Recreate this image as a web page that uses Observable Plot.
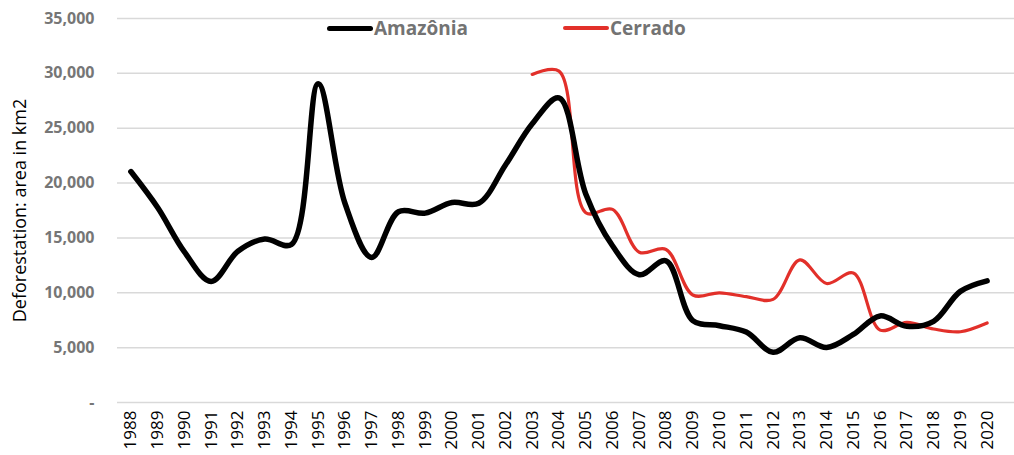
<!DOCTYPE html>
<html>
<head>
<meta charset="utf-8">
<script src="https://cdn.jsdelivr.net/npm/d3@7"></script>
<script src="https://cdn.jsdelivr.net/npm/@observablehq/plot@0.6"></script>
<style>
  html, body { margin: 0; padding: 0; background: #fff; }
  #wrap { position: relative; width: 1014px; height: 455px; font-family: "Open Sans", sans-serif; }
  #legend { position: absolute; top: 16px; left: 0; width: 1014px; height: 24px; pointer-events: none; }
  .li { position: absolute; top: 0; display: flex; align-items: center; height: 24px; }
  .sw { display: inline-block; width: 46px; border-radius: 3px; }
  .lt { font-weight: 700; font-size: 19px; color: #737373; margin-left: 1px; line-height: 24px; }
</style>
</head>
<body>
<div id="wrap">
  <div id="chart"></div>
  <div id="legend"></div>
</div>
<script>
const years = d3.range(1988, 2021);
const amazonia = [21050, 17770, 13730, 11030, 13786, 14900, 14400, 29059, 18161, 13227,
  17383, 17259, 18226, 18165, 21651, 25396, 27772, 19014, 14286, 11651,
  12911, 7464, 7000, 6418, 4571, 5891, 5012, 6207, 7893, 6947, 7400, 10129, 11088];
const cerradoYears = d3.range(2003, 2021);
const cerrado = [29900, 30200, 17300, 17600, 13700, 13950, 9800, 10000, 9650, 9400,
  13000, 10850, 11800, 6600, 7300, 6700, 6450, 7250];
const yTicks = [0, 5000, 10000, 15000, 20000, 25000, 30000, 35000];
const seriesNames = ["Amazônia", "Cerrado"];
const seriesColors = ["#000000", "#e2302a"];
const seriesWidths = [5.5, 3.2];

const amazData = years.map((y, i) => ({year: y, value: amazonia[i]}));
const cerData = cerradoYears.map((y, i) => ({year: y, value: cerrado[i]}));

const chart = Plot.plot({
  width: 1014,
  height: 455,
  marginTop: 18,
  marginBottom: 53,
  marginLeft: 117,
  marginRight: 14,
  style: {fontFamily: "'Open Sans', sans-serif", background: "#fff", overflow: "visible"},
  x: {type: "point", domain: years, padding: 0.5, round: false},
  y: {domain: [0, 35000]},
  marks: [
    Plot.ruleY(yTicks, {stroke: "#d9d9d9", strokeWidth: 1.5, insetRight: -14}),
    Plot.axisY({
      ticks: yTicks, tickSize: 0, tickPadding: 23,
      tickFormat: d => d === 0 ? "-" : d3.format(",")(d),
      fontSize: 16, fontWeight: 700, fill: "#767676", label: null
    }),
    Plot.axisY({
      ticks: [], label: "Deforestation: area in km2", labelAnchor: "center", labelArrow: "none",
      labelOffset: 104, fontSize: 18, fill: "#000"
    }),
    Plot.axisX({
      ticks: years, tickSize: 0, tickPadding: 8, tickRotate: -90,
      tickFormat: d => String(d), fontSize: 17, fill: "#000", label: null
    }),
    Plot.line(cerData, {x: "year", y: "value", stroke: seriesColors[1], strokeWidth: seriesWidths[1], curve: "catmull-rom"}),
    Plot.line(amazData, {x: "year", y: "value", stroke: seriesColors[0], strokeWidth: seriesWidths[0], curve: "catmull-rom"})
  ]
});
document.getElementById("chart").appendChild(chart);

const legendPos = [327, 563];
const legend = document.getElementById("legend");
seriesNames.forEach((name, i) => {
  const item = document.createElement("div");
  item.className = "li";
  item.style.left = legendPos[i] + "px";
  const sw = document.createElement("span");
  sw.className = "sw";
  sw.style.height = (i === 0 ? 5 : 3.5) + "px";
  sw.style.background = seriesColors[i];
  const t = document.createElement("span");
  t.className = "lt";
  t.textContent = name;
  item.appendChild(sw);
  item.appendChild(t);
  legend.appendChild(item);
});
</script>
</body>
</html>
